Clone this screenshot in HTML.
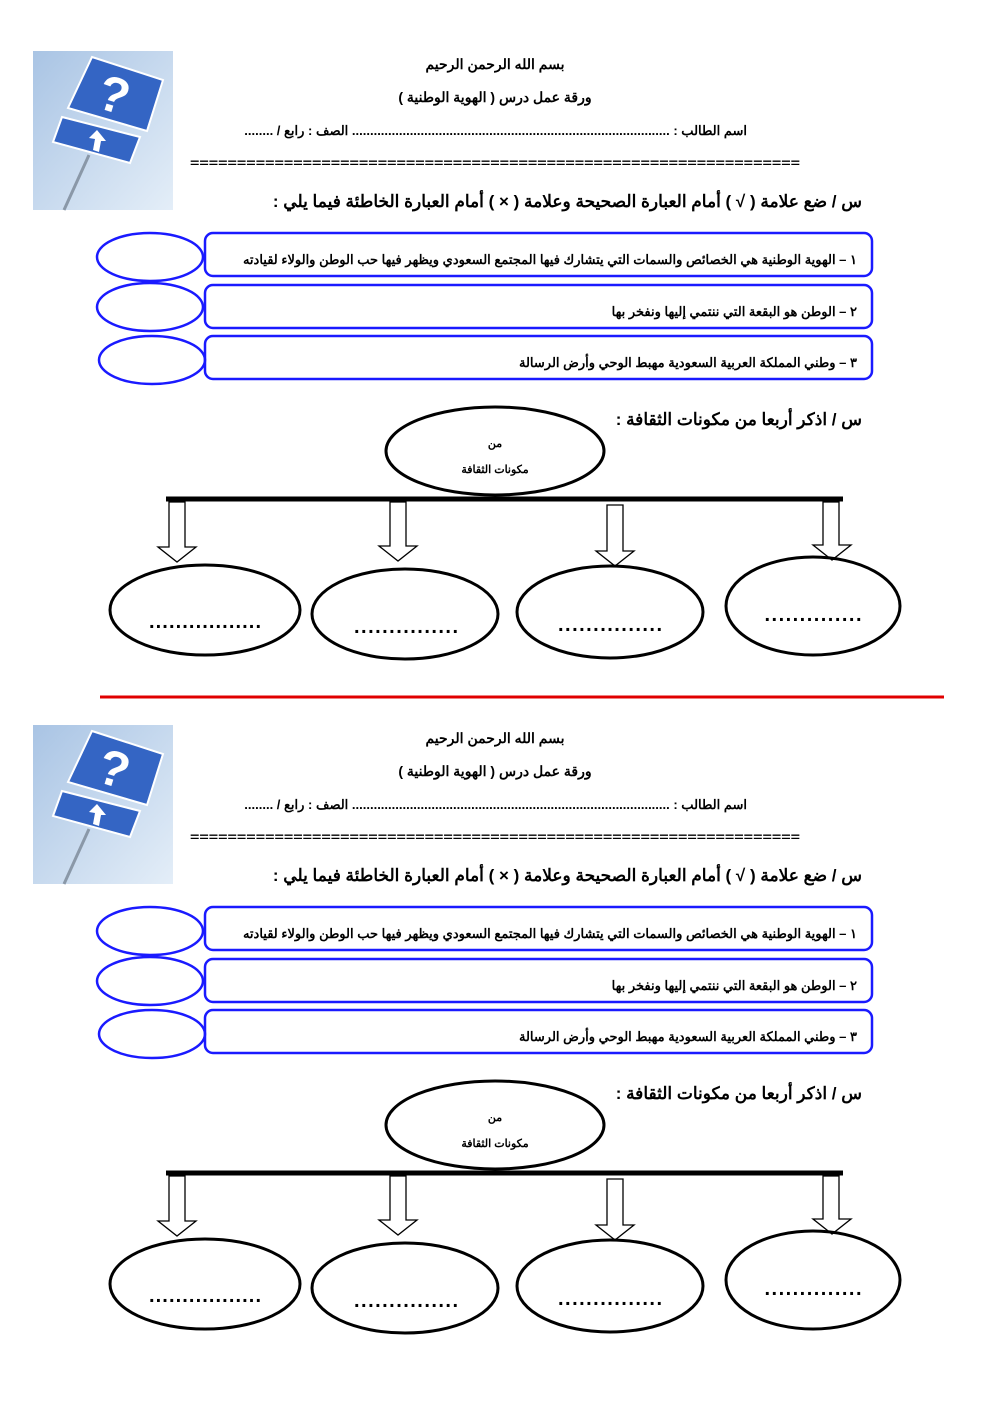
<!DOCTYPE html>
<html><head><meta charset="utf-8"><style>
html,body{margin:0;padding:0;background:#fff;}
svg{display:block;}
text{font-family:"Liberation Sans","Noto Sans CJK SC",sans-serif;font-weight:bold;fill:#000;}
</style></head><body>
<svg width="992" height="1403" viewBox="0 0 992 1403" xmlns="http://www.w3.org/2000/svg">
<defs>
<linearGradient id="sky" x1="0" y1="0" x2="1" y2="1">
<stop offset="0" stop-color="#a9c4e4"/><stop offset="1" stop-color="#e4eef8"/>
</linearGradient>
<g id="half">
  <rect x="33" y="51" width="140" height="159" fill="url(#sky)"/>
  <line x1="89" y1="155" x2="64" y2="210" stroke="#8a98a8" stroke-width="3"/>
  <polygon points="92,57 163,80 147,131 68,108" fill="#3465c4" stroke="#fff" stroke-width="2"/>
  <text x="114" y="112" font-size="50" style="fill:#fff" text-anchor="middle" transform="rotate(17 114 95)">?</text>
  <polygon points="62,117 140,137 130,163 53,142" fill="#3465c4" stroke="#fff" stroke-width="2"/>
  <polygon points="97,130 106,141 101,141 99,152 93,150 95,139 89,138" fill="#fff"/>
  <text x="495" y="69" font-size="14" text-anchor="middle" direction="rtl">بسم الله الرحمن الرحيم</text>
  <text x="495" y="102" font-size="14" text-anchor="middle" direction="rtl">ورقة عمل درس ( الهوية الوطنية )</text>
  <text x="747" y="135" font-size="13" text-anchor="start" direction="rtl">اسم الطالب : ........................................................................................ الصف : رابع / ........</text>
  <text x="495" y="167" font-size="12" text-anchor="middle" font-weight="normal" textLength="610" lengthAdjust="spacingAndGlyphs">=================================================================</text>
  <text x="862" y="207" font-size="17" text-anchor="start" direction="rtl">س / ضع علامة ( √ ) أمام العبارة الصحيحة وعلامة ( × ) أمام العبارة الخاطئة فيما يلي :</text>
  <g fill="none" stroke="#1a1aff" stroke-width="2.5">
    <rect x="205" y="233" width="667" height="43" rx="8"/>
    <rect x="205" y="285" width="667" height="43" rx="8"/>
    <rect x="205" y="336" width="667" height="43" rx="8"/>
    <ellipse cx="150" cy="257" rx="53" ry="24"/>
    <ellipse cx="150" cy="307" rx="53" ry="24"/>
    <ellipse cx="152" cy="360" rx="53" ry="24"/>
  </g>
  <text x="857" y="264" font-size="13" text-anchor="start" direction="rtl">١ – الهوية الوطنية هي الخصائص والسمات التي يتشارك فيها المجتمع السعودي ويظهر فيها حب الوطن والولاء لقيادته</text>
  <text x="857" y="316" font-size="13" text-anchor="start" direction="rtl">٢ – الوطن هو البقعة التي ننتمي إليها ونفخر بها</text>
  <text x="857" y="367" font-size="13" text-anchor="start" direction="rtl">٣ – وطني المملكة العربية السعودية مهبط الوحي وأرض الرسالة</text>
  <text x="862" y="425" font-size="17" text-anchor="start" direction="rtl">س / اذكر أربعا من مكونات الثقافة :</text>
  <ellipse cx="495" cy="451" rx="109" ry="44" fill="none" stroke="#000" stroke-width="3"/>
  <text x="495" y="447" font-size="11" text-anchor="middle">من</text>
  <text x="495" y="473" font-size="11" text-anchor="middle">مكونات الثقافة</text>
  <line x1="166" y1="499" x2="843" y2="499" stroke="#000" stroke-width="5"/>
  <g fill="#fff" stroke="#000" stroke-width="1.3">
    <polygon points="169,502 185,502 185,547 196,547 177,562 158,547 169,547"/>
    <polygon points="390,502 406,502 406,546 417,546 398,561 379,546 390,546"/>
    <polygon points="607,505 623,505 623,551 634,551 615,566 596,551 607,551"/>
    <polygon points="823,502 839,502 839,545 851,545 832,560 813,545 823,545"/>
  </g>
  <g fill="none" stroke="#000" stroke-width="3">
    <ellipse cx="205" cy="610" rx="95" ry="45"/>
    <ellipse cx="405" cy="614" rx="93" ry="45"/>
    <ellipse cx="610" cy="612" rx="93" ry="46"/>
    <ellipse cx="813" cy="606" rx="87" ry="49"/>
  </g>
  <text x="205" y="628" font-size="20" text-anchor="middle" textLength="112" lengthAdjust="spacing">.................</text>
  <text x="406" y="633" font-size="20" text-anchor="middle" textLength="104" lengthAdjust="spacing">...............</text>
  <text x="610" y="631" font-size="20" text-anchor="middle" textLength="104" lengthAdjust="spacing">...............</text>
  <text x="813" y="621" font-size="20" text-anchor="middle" textLength="97" lengthAdjust="spacing">..............</text>
</g>
</defs>
<use href="#half"/>
<line x1="100" y1="697" x2="944" y2="697" stroke="#e00000" stroke-width="3"/>
<use href="#half" transform="translate(0,674)"/>
</svg>
</body></html>
